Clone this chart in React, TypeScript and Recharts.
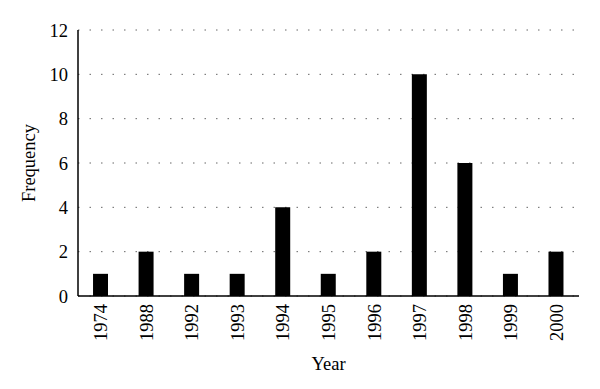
import { BarChart, Bar, XAxis, YAxis, CartesianGrid } from 'recharts';

const YEARS = ['1974', '1988', '1992', '1993', '1994', '1995', '1996', '1997', '1998', '1999', '2000'];
const FREQUENCY = [1, 2, 1, 1, 4, 1, 2, 10, 6, 1, 2];
const Y_TICKS = [0, 2, 4, 6, 8, 10, 12];

const TEXT_STYLE = { fontFamily: 'Liberation Serif', fontSize: 18.5 };

const data = YEARS.map((year, i) => ({ year, freq: FREQUENCY[i] }));

// rotated year labels, reading bottom to top
function YearTick(props: any) {
  const { x, y, payload } = props;
  const ty = y + 8;
  return (
    <text
      x={x}
      y={ty}
      dy="0.35em"
      transform={`rotate(-90, ${x}, ${ty})`}
      textAnchor="end"
      fill="#000"
      style={TEXT_STYLE}
    >
      {payload.value}
    </text>
  );
}

export default function App() {
  return (
    <div style={{ position: 'absolute', left: 0, top: 0, background: '#fff' }}>
      <BarChart
        width={600}
        height={389}
        data={data}
        margin={{ top: 30, right: 21, left: 0, bottom: 0 }}
        barCategoryGap="33%"
        style={TEXT_STYLE}
      >
        <CartesianGrid vertical={false} stroke="#666" strokeDasharray="1.5 10" />
        <XAxis
          dataKey="year"
          height={93}
          interval={0}
          tick={<YearTick />}
          tickLine={false}
          tickSize={0}
          tickMargin={0}
          axisLine={{ stroke: '#000', strokeWidth: 1.5 }}
          label={{ value: 'Year', position: 'insideBottom', offset: 19, fill: '#000', style: TEXT_STYLE }}
        />
        <YAxis
          width={78}
          domain={[0, 12]}
          ticks={Y_TICKS}
          interval={0}
          tickLine={false}
          tickSize={0}
          tickMargin={10}
          axisLine={{ stroke: '#000', strokeWidth: 1.5 }}
          tick={{ fill: '#000', style: TEXT_STYLE }}
          label={{ value: 'Frequency', angle: -90, position: 'insideLeft', offset: 28, fill: '#000', style: { ...TEXT_STYLE, textAnchor: 'middle' } }}
        />
        <Bar dataKey="freq" fill="#000" isAnimationActive={false} />
      </BarChart>
    </div>
  );
}
